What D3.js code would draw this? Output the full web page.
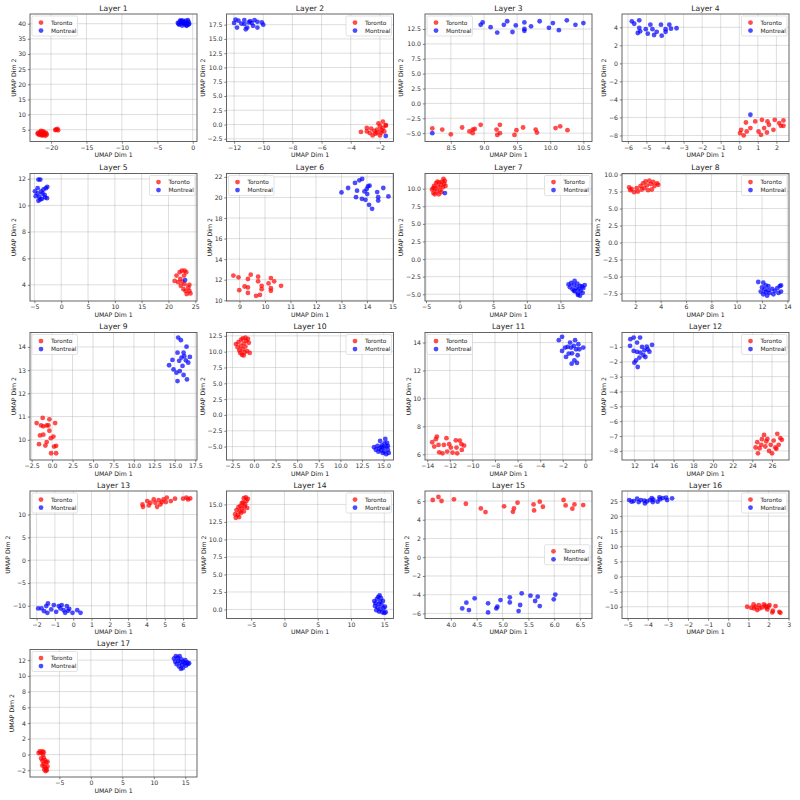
<!DOCTYPE html>
<html><head><meta charset="utf-8">
<script src="https://cdn.jsdelivr.net/npm/d3@7"></script>
<style>body{margin:0;background:#fff}svg{display:block;font-family:"DejaVu Sans",sans-serif}</style>
</head><body><svg id="c" width="800" height="800"></svg>
<script>
const cities = ["Toronto", "Montreal"];
const cityColors = ["red", "blue"];

const toronto1 = [[-21.8,4.0],[-21.6,3.5],[-21.5,4.3],[-21.3,3.8],[-21.2,3.2],[-21.0,4.1],[-20.9,3.6],[-20.8,3.0],[-21.7,3.3],[-21.4,4.6],[-21.1,4.4],[-20.7,3.9],[-21.9,3.7],[-20.6,3.4],[-21.3,3.1],[-21.0,3.4],[-19.4,4.9],[-19.1,5.3],[-19.3,5.0],[-19.0,4.8]];
const montreal1 = [[-2.1,40.3],[-1.9,39.7],[-1.8,40.8],[-1.6,40.1],[-1.5,39.4],[-1.4,41.0],[-1.3,40.5],[-1.1,39.8],[-1.0,40.9],[-0.9,40.2],[-0.8,39.5],[-0.7,41.2],[-0.6,40.6],[-0.5,40.0],[-1.7,41.1],[-1.2,40.0],[-2.0,39.9],[-0.9,39.3],[-1.5,40.6],[-0.6,39.7]];

const toronto2 = [[-3.3,-1.3],[-2.9,-0.6],[-2.9,-1.2],[-2.7,-1.5],[-2.6,-0.7],[-2.5,-1.9],[-2.4,-1.1],[-2.3,-1.6],[-2.2,-0.9],[-2.1,0.2],[-2.0,-1.9],[-2.0,-0.3],[-1.9,-1.4],[-1.8,-0.6],[-1.8,0.5],[-1.7,-1.2],[-1.6,-0.1],[-1.9,-1.0],[-2.2,-1.4],[-1.6,-0.2]];
const montreal2 = [[-12.0,17.8],[-11.8,17.0],[-11.7,18.2],[-11.3,18.3],[-11.3,17.6],[-11.1,17.0],[-11.0,17.9],[-10.8,17.8],[-10.6,18.3],[-10.4,18.0],[-10.4,17.0],[-10.0,17.5],[-11.5,17.7],[-10.9,18.1],[-11.2,16.7],[-11.9,18.4],[-10.7,17.3],[-10.1,17.9],[-1.6,-2.0]];

const toronto3 = [[8.22,-4.2],[8.37,-4.4],[8.5,-5.2],[8.67,-4.05],[8.78,-4.7],[8.83,-4.4],[8.83,-5.0],[8.86,-4.3],[8.95,-3.6],[9.19,-4.4],[9.2,-5.3],[9.24,-5.0],[9.24,-3.6],[9.46,-5.3],[9.49,-4.5],[9.59,-4.05],[9.78,-4.4],[9.8,-4.9],[10.08,-4.15],[10.15,-3.85],[10.26,-4.5]];
const montreal3 = [[8.95,13.2],[8.98,13.6],[9.1,12.8],[9.2,11.9],[9.3,13.2],[9.35,13.8],[9.43,12.0],[9.48,13.1],[9.61,13.6],[9.61,12.5],[9.61,12.2],[9.71,12.95],[9.84,13.8],[9.98,12.7],[10.04,13.5],[10.13,12.3],[10.25,13.95],[10.38,13.2],[10.5,13.5],[8.22,-5.0]];

const toronto4 = [[0.04,-7.74],[0.1,-7.37],[0.24,-8.0],[0.36,-6.56],[0.4,-7.56],[0.6,-7.18],[0.86,-6.44],[1.04,-7.56],[1.17,-7.93],[1.22,-6.26],[1.34,-7.18],[1.49,-7.67],[1.52,-6.44],[1.6,-6.81],[1.84,-7.37],[1.91,-6.26],[2.15,-6.63],[2.24,-6.93],[2.38,-6.33],[2.38,-6.93]];
const montreal4 = [[-5.79,4.67],[-5.66,4.4],[-5.39,4.78],[-5.39,3.93],[-5.47,3.37],[-5.34,3.56],[-5.04,3.8],[-4.93,3.3],[-4.79,4.3],[-4.68,3.8],[-4.59,3.15],[-4.45,3.5],[-4.22,4.3],[-4.18,3.07],[-3.97,3.8],[-3.97,3.5],[-3.77,4.3],[-3.68,3.85],[-3.38,3.9],[0.6,-5.7]];

const toronto5 = [[21.15,4.3],[21.5,4.7],[21.8,4.2],[22.1,4.95],[22.2,4.45],[22.3,3.93],[22.5,5.07],[22.6,4.25],[22.9,4.7],[23.0,5.07],[22.8,3.67],[23.2,3.54],[23.0,4.05],[23.4,3.3],[23.9,4.0],[23.9,3.54],[24.1,3.35],[23.7,3.8],[23.3,4.95]];
const montreal5 = [[-4.9,11.06],[-4.4,11.3],[-4.25,11.95],[-3.9,11.95],[-4.4,10.9],[-4.1,10.65],[-3.75,11.05],[-4.25,10.35],[-3.6,10.5],[-3.3,11.2],[-3.1,10.8],[-2.85,11.3],[-2.65,10.55],[-2.6,11.4],[-3.9,10.45],[-4.75,10.7],[-3.5,10.9],[-3.0,10.6],[23.1,4.36]];

const toronto6 = [[8.76,12.4],[8.96,12.23],[8.99,10.98],[9.2,11.34],[9.33,12.07],[9.33,11.25],[9.33,10.72],[9.44,12.49],[9.65,10.43],[9.73,12.3],[9.73,11.84],[9.8,10.52],[9.87,11.41],[9.87,11.08],[10.14,11.64],[10.23,12.16],[10.23,11.18],[10.23,10.92],[10.36,11.84],[10.63,11.41]];
const montreal6 = [[13.0,20.49],[13.26,20.92],[13.53,21.41],[13.57,20.03],[13.61,20.66],[13.7,21.67],[13.81,21.8],[13.8,19.87],[13.9,20.59],[13.94,19.77],[13.99,20.82],[14.01,20.33],[14.04,21.08],[14.08,19.28],[14.1,21.15],[14.2,18.89],[14.4,20.52],[14.44,20.03],[14.44,19.7],[14.64,20.92],[14.84,20.1]];

const toronto7 = [[-4.1,9.9],[-3.9,9.4],[-3.8,10.4],[-3.7,9.2],[-3.6,10.0],[-3.5,10.8],[-3.4,9.6],[-3.2,10.3],[-3.1,9.2],[-3.0,10.9],[-2.9,9.8],[-2.8,10.5],[-2.6,11.0],[-2.5,10.2],[-2.4,11.4],[-2.3,10.7],[-2.2,11.1],[-2.1,10.4],[-3.3,11.0],[-2.7,9.5],[-3.9,10.1]];
const montreal7 = [[16.2,-3.6],[16.4,-4.0],[16.6,-3.4],[16.8,-4.3],[17.0,-3.7],[17.1,-3.1],[17.2,-4.6],[17.4,-4.1],[17.5,-3.5],[17.6,-4.9],[17.7,-4.3],[17.9,-3.8],[17.9,-5.2],[18.0,-4.5],[18.2,-3.9],[18.3,-4.8],[18.4,-4.1],[18.6,-3.7],[17.6,-5.1],[17.0,-4.5],[-2.19,9.38]];

const toronto8 = [[1.5,8.1],[1.6,7.7],[1.7,7.9],[1.9,7.4],[2.1,8.0],[2.2,7.5],[2.4,8.3],[2.5,7.8],[2.6,8.7],[2.7,8.0],[2.8,9.0],[2.9,8.4],[3.0,7.7],[3.1,9.1],[3.2,8.6],[3.3,7.8],[3.4,8.9],[3.5,8.3],[3.7,8.7],[3.8,8.5]];
const montreal8 = [[11.7,-5.8],[11.9,-7.2],[12.0,-6.6],[12.1,-5.9],[12.1,-7.6],[12.2,-6.9],[12.3,-6.3],[12.4,-7.8],[12.5,-7.0],[12.5,-6.4],[12.6,-7.4],[12.8,-6.8],[12.9,-7.6],[13.0,-7.1],[13.2,-6.7],[13.3,-7.4],[13.4,-6.4],[13.5,-7.2],[13.5,-6.3],[12.3,-7.3]];

const toronto9 = [[-1.89,10.72],[-1.48,10.19],[-1.6,9.81],[-1.35,10.62],[-1.15,10.94],[-1.07,10.58],[-1.07,10.22],[-0.82,9.75],[-0.66,9.9],[-0.45,10.62],[-0.33,10.88],[-0.33,10.39],[-0.16,10.07],[-0.12,9.42],[0.16,10.14],[0.25,9.71],[0.37,10.72],[0.49,9.42],[0.49,9.74],[-0.66,10.62]];
const montreal9 = [[14.3,13.21],[14.71,13.44],[14.84,13.03],[15.2,12.89],[15.33,12.53],[15.33,13.75],[15.41,14.4],[15.53,13.4],[15.61,12.96],[15.74,14.29],[15.82,13.54],[15.94,13.18],[16.07,13.75],[16.07,12.79],[16.15,13.6],[16.35,13.42],[16.43,14.01],[16.48,12.6],[16.64,13.32],[16.84,13.57]];

const toronto10 = [[-2.1,11.2],[-1.9,10.7],[-1.8,11.5],[-1.7,10.2],[-1.6,9.8],[-1.5,11.9],[-1.5,10.9],[-1.4,9.5],[-1.3,12.1],[-1.3,10.4],[-1.2,11.3],[-1.1,9.9],[-1.0,12.2],[-1.0,10.8],[-0.9,11.7],[-0.8,10.1],[-0.7,12.0],[-0.6,11.4],[-0.5,9.8],[-1.2,9.4]];
const montreal10 = [[13.9,-5.1],[14.1,-5.5],[14.3,-4.9],[14.4,-5.8],[14.5,-5.3],[14.6,-4.1],[14.7,-5.6],[14.8,-4.8],[14.9,-6.0],[15.0,-5.2],[15.1,-4.5],[15.1,-5.8],[15.2,-3.8],[15.3,-5.0],[15.3,-6.2],[15.4,-4.4],[15.5,-5.5],[15.6,-6.0],[15.5,-4.9],[14.8,-5.1]];

const toronto11 = [[-13.56,6.86],[-13.38,6.55],[-13.24,7.08],[-13.15,7.27],[-13.0,6.67],[-12.94,6.14],[-12.65,6.07],[-12.53,6.67],[-12.3,7.15],[-12.24,6.19],[-12.06,6.72],[-11.91,6.48],[-11.76,6.12],[-11.47,7.0],[-11.41,6.48],[-11.35,6.07],[-11.12,6.98],[-10.97,6.72],[-10.94,6.31],[-10.74,6.62]];
const montreal11 = [[-2.35,14.17],[-2.06,14.41],[-2.06,13.4],[-1.79,13.64],[-1.71,12.97],[-1.56,13.69],[-1.47,13.21],[-1.35,14.0],[-1.26,13.64],[-1.21,12.49],[-1.18,13.23],[-1.03,13.76],[-0.97,12.73],[-0.91,14.17],[-0.82,13.52],[-0.74,12.54],[-0.68,13.09],[-0.62,13.88],[-0.53,13.52],[-0.18,13.64]];

const toronto12 = [[24.33,-7.77],[24.5,-7.41],[24.57,-8.16],[24.74,-7.82],[24.91,-7.59],[24.98,-7.21],[25.19,-6.92],[25.32,-7.7],[25.42,-7.36],[25.53,-7.19],[25.7,-8.0],[25.87,-7.59],[26.0,-8.16],[26.17,-7.3],[26.34,-7.77],[26.44,-7.86],[26.54,-6.85],[26.68,-7.59],[26.85,-7.14],[27.0,-7.25]];
const montreal12 = [[11.56,-0.93],[11.59,-0.48],[11.93,-0.37],[11.93,-1.27],[12.0,-2.06],[12.17,-1.9],[12.27,-0.71],[12.27,-1.34],[12.34,-2.35],[12.51,-1.72],[12.58,-0.37],[12.61,-1.38],[12.78,-1.0],[12.92,-1.56],[13.02,-1.23],[13.12,-1.68],[13.26,-0.98],[13.36,-1.16],[13.53,-1.32],[13.8,-0.86]];

const toronto13 = [[3.78,12.2],[3.81,11.69],[4.04,12.94],[4.13,11.99],[4.22,12.57],[4.4,13.31],[4.49,12.57],[4.58,11.69],[4.67,13.16],[4.76,12.21],[4.84,12.72],[4.93,13.31],[5.11,13.68],[5.06,12.72],[5.33,12.94],[5.56,13.46],[6.0,13.46],[6.18,13.68],[6.27,13.31],[6.39,13.53]];
const montreal13 = [[-1.73,-10.59],[-1.59,-11.18],[-1.47,-10.07],[-1.41,-11.54],[-1.38,-9.49],[-1.2,-10.81],[-1.06,-9.85],[-0.93,-11.32],[-0.79,-10.07],[-0.7,-10.59],[-0.63,-9.85],[-0.52,-10.96],[-0.44,-11.54],[-0.35,-10.07],[-0.28,-11.1],[-0.22,-10.66],[-0.04,-11.54],[0.22,-10.96],[0.4,-11.54],[-1.91,-10.59]];

const toronto14 = [[-7.4,13.6],[-7.3,13.1],[-7.2,14.2],[-7.0,13.5],[-6.9,14.6],[-6.8,13.2],[-6.7,14.0],[-6.6,14.8],[-6.5,13.8],[-6.4,14.4],[-6.2,15.3],[-6.1,14.0],[-6.1,15.9],[-6.0,14.7],[-5.9,15.0],[-5.8,16.0],[-5.7,15.5],[-5.6,14.5],[-5.5,15.8],[-6.4,15.2]];
const montreal14 = [[13.5,1.2],[13.6,0.5],[13.7,0.9],[13.8,-0.1],[13.9,1.5],[14.0,0.3],[14.1,1.8],[14.2,0.8],[14.2,-0.3],[14.3,2.0],[14.4,1.1],[14.4,0.0],[14.5,1.6],[14.6,0.6],[14.7,-0.4],[14.8,1.2],[14.9,0.2],[15.0,-0.5],[15.1,0.4],[15.2,-0.4]];

const toronto15 = [[3.65,6.11],[3.76,6.43],[3.82,6.0],[4.06,6.18],[4.29,5.71],[4.58,5.21],[4.67,4.82],[5.03,5.43],[5.2,4.85],[5.22,5.21],[5.29,5.82],[5.6,5.64],[5.61,5.0],[5.72,5.93],[5.78,5.39],[6.18,6.11],[6.22,5.53],[6.35,5.18],[6.39,5.64],[6.56,5.57]];
const montreal15 = [[4.22,-5.46],[4.3,-4.85],[4.35,-5.64],[4.46,-4.39],[4.72,-4.92],[4.72,-5.89],[4.88,-5.46],[4.9,-5.28],[4.96,-4.57],[5.14,-4.28],[5.14,-4.82],[5.31,-5.75],[5.34,-5.1],[5.37,-3.85],[5.54,-4.1],[5.63,-4.67],[5.68,-4.21],[5.72,-5.21],[5.99,-4.49],[6.02,-3.99]];

const toronto16 = [[0.94,-10.0],[1.14,-10.33],[1.26,-9.22],[1.36,-10.0],[1.44,-11.11],[1.52,-9.44],[1.56,-10.56],[1.77,-9.22],[1.85,-9.67],[1.89,-10.22],[1.94,-10.89],[2.0,-10.0],[2.05,-9.44],[2.19,-11.89],[2.22,-11.33],[2.35,-9.78],[2.54,-11.67],[2.59,-12.0],[1.68,-10.22],[1.28,-10.56]];
const montreal16 = [[-4.92,25.33],[-4.8,24.78],[-4.7,25.0],[-4.53,25.78],[-4.45,24.67],[-4.34,25.33],[-4.14,24.22],[-4.05,24.89],[-3.89,25.33],[-3.8,26.0],[-3.75,24.67],[-3.51,24.78],[-3.42,26.22],[-3.39,25.56],[-3.26,26.0],[-3.09,26.11],[-3.04,25.33],[-2.79,25.89],[-3.72,25.44],[-4.17,25.11]];

const toronto17 = [[-8.3,0.2],[-8.1,0.4],[-7.9,0.2],[-7.7,0.4],[-7.5,0.3],[-7.9,-0.5],[-7.7,-0.8],[-7.5,-0.4],[-7.3,-0.7],[-7.1,-1.0],[-7.7,-1.4],[-7.5,-1.2],[-7.3,-1.6],[-7.1,-1.8],[-6.9,-1.5],[-7.2,-2.1],[-7.0,-2.0],[-7.4,-1.9],[-6.9,-0.9],[-7.6,0.0]];
const montreal17 = [[13.2,12.2],[13.4,11.8],[13.5,12.5],[13.6,11.5],[13.8,12.3],[13.9,11.9],[14.0,11.2],[14.1,12.5],[14.2,11.7],[14.3,10.9],[14.4,12.1],[14.5,11.4],[14.6,11.0],[14.7,11.8],[14.9,11.6],[15.0,12.0],[15.1,11.3],[15.3,11.7],[15.4,11.5],[15.6,11.6]];

const xLims = [[-22.97,0.6],[-12.52,-1.07],[8.11,10.63],[-6.32,2.68],[-5.82,25.32],[8.49,15.04],[-5.15,19.69],[0.94,14.13],[-2.7,17.71],[-3.19,16.15],[-14.2,0.59],[10.74,27.73],[-2.36,6.76],[-8.7,16.38],[3.5,6.73],[-5.28,3.02],[-9.67,16.86]];
const yLims = [[1.1,43.2],[-2.97,19.37],[-6.4,15.02],[-8.67,5.48],[2.78,12.41],[9.93,22.33],[-5.96,12.16],[-8.59,10.15],[9.13,14.62],[-7.12,13.03],[5.59,14.72],[-8.61,-0.03],[-12.79,15.15],[-1.29,16.92],[-6.54,7.07],[-13.89,28.33],[-2.85,13.35]];

const xTicks = [
  [-20,-15,-10,-5,0],[-12,-10,-8,-6,-4,-2],[8.5,9.0,9.5,10.0,10.5],[-6,-5,-4,-3,-2,-1,0,1,2],
  [-5,0,5,10,15,20,25],[9,10,11,12,13,14,15],[-5,0,5,10,15],[2,4,6,8,10,12,14],
  [-2.5,0.0,2.5,5.0,7.5,10.0,12.5,15.0,17.5],[-2.5,0.0,2.5,5.0,7.5,10.0,12.5,15.0],[-14,-12,-10,-8,-6,-4,-2,0],[12,14,16,18,20,22,24,26],
  [-2,-1,0,1,2,3,4,5,6],[-5,0,5,10,15],[4.0,4.5,5.0,5.5,6.0,6.5],[-5,-4,-3,-2,-1,0,1,2,3],
  [-5,0,5,10,15]];
const yTicks = [
  [5,10,15,20,25,30,35,40],[-2.5,0.0,2.5,5.0,7.5,10.0,12.5,15.0,17.5],[-5.0,-2.5,0.0,2.5,5.0,7.5,10.0,12.5],[-8,-6,-4,-2,0,2,4],
  [4,6,8,10,12],[10,12,14,16,18,20,22],[-5.0,-2.5,0.0,2.5,5.0,7.5,10.0],[-7.5,-5.0,-2.5,0.0,2.5,5.0,7.5,10.0],
  [10,11,12,13,14],[-5.0,-2.5,0.0,2.5,5.0,7.5,10.0,12.5],[6,8,10,12,14],[-8,-7,-6,-5,-4,-3,-2,-1],
  [-10,-5,0,5,10],[0.0,2.5,5.0,7.5,10.0,12.5,15.0],[-6,-4,-2,0,2,4,6],[-10,-5,0,5,10,15,20,25],
  [-2,0,2,4,6,8,10,12]];
const legendLoc = ["ul","ur","ul","ur","ur","ul","ur","ur","ul","ur","ul","ur","ul","ur","cr","ur","ul"];
const torontoAll = [toronto1,toronto2,toronto3,toronto4,toronto5,toronto6,toronto7,toronto8,toronto9,toronto10,toronto11,toronto12,toronto13,toronto14,toronto15,toronto16,toronto17];
const montrealAll = [montreal1,montreal2,montreal3,montreal4,montreal5,montreal6,montreal7,montreal8,montreal9,montreal10,montreal11,montreal12,montreal13,montreal14,montreal15,montreal16,montreal17];
const xLabel = "UMAP Dim 1", yLabel = "UMAP Dim 2";

const colLeft = [30, 226.5, 425, 622], rowTop = [14, 173.5, 332.5, 491, 649.5];
const W = 167, H = 127.5;
const svg = d3.select("#c");
const tickFont = 6.2, titleFont = 7.6, legFont = 5.8;

torontoAll.forEach((tor, i) => {
  const r = Math.floor(i / 4), c = i % 4;
  const g = svg.append("g").attr("transform", `translate(${colLeft[c]},${rowTop[r]})`);
  const x = d3.scaleLinear().domain(xLims[i]).range([0, W]);
  const y = d3.scaleLinear().domain(yLims[i]).range([H, 0]);
  const dec = t => t.some(v => !Number.isInteger(v)) ? 1 : 0;
  const fx = d3.format(`.${dec(xTicks[i])}f`), fy = d3.format(`.${dec(yTicks[i])}f`);

  // grid
  g.append("g").selectAll("line").data(xTicks[i]).join("line")
    .attr("x1", d => x(d)).attr("x2", d => x(d)).attr("y1", 0).attr("y2", H)
    .attr("stroke", "#b0b0b0").attr("stroke-opacity", 0.6).attr("stroke-width", 0.7);
  g.append("g").selectAll("line").data(yTicks[i]).join("line")
    .attr("y1", d => y(d)).attr("y2", d => y(d)).attr("x1", 0).attr("x2", W)
    .attr("stroke", "#b0b0b0").attr("stroke-opacity", 0.6).attr("stroke-width", 0.7);

  const styleAxis = s => {
    s.select(".domain").remove();
    s.selectAll("text").attr("font-size", tickFont).attr("fill", "#333").attr("font-family", "DejaVu Sans");
    s.selectAll("line").attr("stroke", "#333").attr("stroke-width", 0.6);
  };
  g.append("g").attr("transform", `translate(0,${H})`)
    .call(d3.axisBottom(x).tickValues(xTicks[i]).tickFormat(fx).tickSize(2.2).tickPadding(1.8)).call(styleAxis);
  const ya = g.append("g").call(d3.axisLeft(y).tickValues(yTicks[i]).tickFormat(fy).tickSize(2.2).tickPadding(1.8)).call(styleAxis);

  // points
  const sets = [tor, montrealAll[i]];
  sets.forEach((pts, k) => {
    g.append("g").selectAll("circle").data(pts).join("circle")
      .attr("cx", d => x(d[0])).attr("cy", d => y(d[1])).attr("r", 2.4)
      .attr("fill", cityColors[k]).attr("fill-opacity", 0.7);
  });

  // frame
  g.append("rect").attr("width", W).attr("height", H).attr("fill", "none")
    .attr("stroke", "#555").attr("stroke-width", 0.9);

  // title
  g.append("text").attr("x", W / 2).attr("y", -3.2).attr("text-anchor", "middle")
    .attr("font-size", titleFont).attr("fill", "#222").text(`Layer ${i + 1}`);
  // x label
  g.append("text").attr("x", W / 2).attr("y", H + 15.5).attr("text-anchor", "middle")
    .attr("font-size", tickFont).attr("fill", "#222").text(xLabel);
  // y label
  const bb = ya.node().getBBox();
  g.append("text").attr("transform", `translate(${bb.x - 2.5},${H / 2}) rotate(-90)`)
    .attr("text-anchor", "middle").attr("font-size", tickFont).attr("fill", "#222").text(yLabel);

  // legend
  const lw = 45.5, lh = 20, pad = 2;
  let lx = pad, ly = pad;
  if (legendLoc[i] === "ur") lx = W - lw - pad;
  if (legendLoc[i] === "cr") { lx = W - lw - pad; ly = H / 2 - lh / 2; }
  const lg = g.append("g").attr("transform", `translate(${lx},${ly})`);
  lg.append("rect").attr("width", lw).attr("height", lh).attr("rx", 1.5)
    .attr("fill", "#fff").attr("fill-opacity", 0.85).attr("stroke", "#d0d0d0").attr("stroke-width", 0.6);
  cities.forEach((name, k) => {
    lg.append("circle").attr("cx", 9).attr("cy", 6.6 + k * 8).attr("r", 2.4)
      .attr("fill", cityColors[k]).attr("fill-opacity", 0.7);
    lg.append("text").attr("x", 19).attr("y", 6.6 + k * 8).attr("dy", "0.35em")
      .attr("font-size", legFont).attr("fill", "#222").text(name);
  });
});
</script></body></html>
